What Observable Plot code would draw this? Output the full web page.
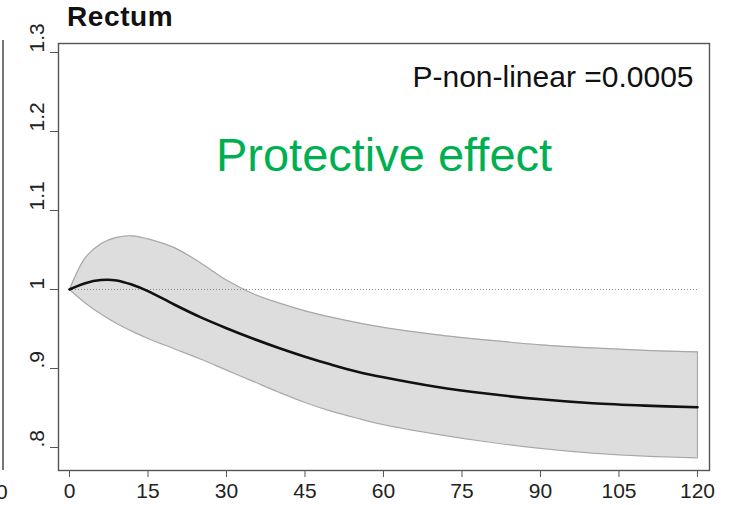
<!DOCTYPE html>
<html>
<head>
<meta charset="utf-8">
<script src="https://cdn.jsdelivr.net/npm/d3@7"></script>
<script src="https://cdn.jsdelivr.net/npm/@observablehq/plot@0.6"></script>
<style>
  html, body { margin: 0; padding: 0; background: #fff; }
  #wrap { position: relative; width: 733px; height: 505px; overflow: hidden; font-family: "Liberation Sans", Arial, sans-serif; }
  #chart { position: absolute; left: 0; top: 0; }
  #title { position: absolute; left: 67px; top: 1px; font-size: 28px; font-weight: bold; color: #111; line-height: 32px; letter-spacing: 0.6px; z-index: 2; }
  #prevline { position: absolute; left: 2px; top: 40px; width: 1.5px; height: 430px; background: #777; }
  #prevzero { position: absolute; left: -4px; top: 480px; font-size: 21px; color: #222; line-height: 24px; }
</style>
</head>
<body>
<div id="wrap">
  <div id="chart"></div>
  <div id="title">Rectum</div>
  <div id="prevline"></div>
  <div id="prevzero">0</div>
</div>
<script>
// Follow-up (x) values
const xVals  = [0, 3, 6, 9, 12, 15, 20, 25, 30, 35, 40, 45, 50, 55, 60, 70, 80, 90, 100, 110, 120];
// Estimated relative risk (solid line)
const rrVals = [1.000, 1.008, 1.012, 1.0115, 1.006, 0.998, 0.981, 0.965, 0.951, 0.938, 0.926, 0.915, 0.905, 0.896, 0.889, 0.877, 0.868, 0.861, 0.856, 0.853, 0.851];
// Upper confidence limit
const upperVals = [1.000, 1.040, 1.058, 1.066, 1.068, 1.064, 1.053, 1.034, 1.012, 0.995, 0.983, 0.973, 0.965, 0.958, 0.952, 0.943, 0.936, 0.930, 0.926, 0.923, 0.921];
// Lower confidence limit
const lowerVals = [1.000, 0.983, 0.969, 0.957, 0.947, 0.938, 0.925, 0.912, 0.898, 0.884, 0.870, 0.857, 0.846, 0.837, 0.829, 0.817, 0.807, 0.799, 0.793, 0.789, 0.787];
// Axis ticks
const xTicks = [0, 15, 30, 45, 60, 75, 90, 105, 120];
const yTicks = [0.8, 0.9, 1.0, 1.1, 1.2, 1.3];
const yTickLabels = [".8", ".9", "1", "1.1", "1.2", "1.3"];
const refValue = [1];
const pText = "P-non-linear =0.0005";
const effectText = "Protective effect";

const data = xVals.map((x, i) => ({x, rr: rrVals[i], lo: lowerVals[i], hi: upperVals[i]}));
const last = data[data.length - 1];
const curve = "catmull-rom";

const chart = Plot.plot({
  width: 733,
  height: 505,
  marginLeft: 58,
  marginRight: 24,
  marginTop: 43,
  marginBottom: 35,
  style: {fontFamily: "Liberation Sans, Arial, sans-serif", background: "transparent", color: "#222"},
  x: {domain: [-2.1, 122.3]},
  y: {domain: [0.7709, 1.3114]},
  marks: [
    Plot.areaY(data, {x: "x", y1: "lo", y2: "hi", fill: "#dddddd", curve}),
    Plot.line(data, {x: "x", y: "hi", stroke: "#a8a8a8", strokeWidth: 1.2, curve}),
    Plot.line(data, {x: "x", y: "lo", stroke: "#a8a8a8", strokeWidth: 1.2, curve}),
    Plot.ruleX([last], {x: "x", y1: "lo", y2: "hi", stroke: "#a8a8a8", strokeWidth: 1.2}),
    Plot.ruleY(refValue, {x1: d3.min(xVals), x2: d3.max(xVals), stroke: "#8a8a8a", strokeWidth: 1, strokeDasharray: "1,2"}),
    Plot.line(data, {x: "x", y: "rr", stroke: "#111", strokeWidth: 2.6, curve}),
    Plot.frame({stroke: "#555", strokeWidth: 1.4}),
    Plot.axisX({ticks: xTicks, tickSize: 7, tickPadding: 6, fontSize: 21, stroke: "#555", fill: "#222", label: null}),
    Plot.axisY({ticks: yTicks, tickSize: 8, tickFormat: () => "", stroke: "#555", label: null}),
    Plot.text(yTicks, {y: d => d, text: (d, i) => yTickLabels[i], frameAnchor: "left", dx: -21, rotate: -90, fontSize: 21, fill: "#222"}),
    Plot.text([pText], {text: d => d, frameAnchor: "top-right", textAnchor: "end", lineAnchor: "bottom", dx: -16, dy: 43, fontSize: 30, fill: "#111"}),
    Plot.text([effectText], {text: d => d, frameAnchor: "top", textAnchor: "middle", lineAnchor: "bottom", dy: 127, fontSize: 47, fill: "#00b050"})
  ]
});
document.getElementById("chart").appendChild(chart);
</script>
</body>
</html>
